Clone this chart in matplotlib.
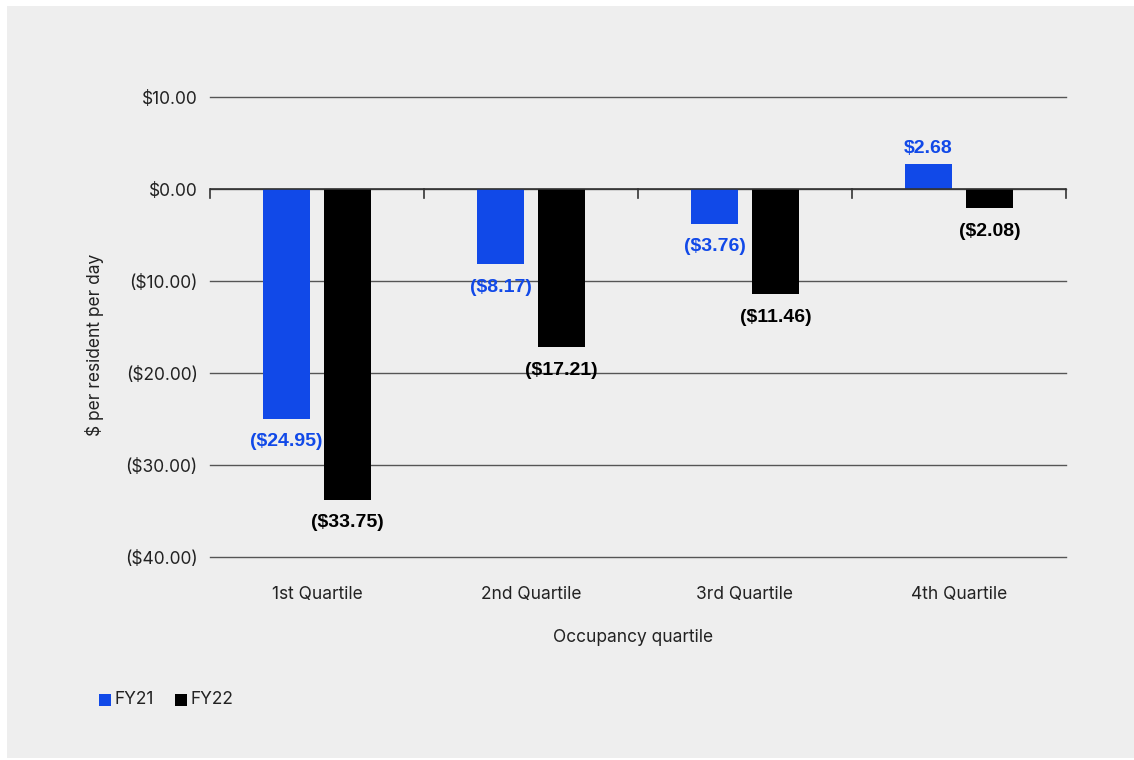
import matplotlib.pyplot as plt
from matplotlib.patches import Rectangle
import numpy as np

quartiles = ["1st Quartile", "2nd Quartile", "3rd Quartile", "4th Quartile"]
fy21 = [-24.95, -8.17, -3.76, 2.68]
fy22 = [-33.75, -17.21, -11.46, -2.08]
yticks = [10, 0, -10, -20, -30, -40]

BLUE = "#1149e8"
BLACK = "#000000"
BG = "#eeeeee"

plt.rcParams["font.family"] = ["Inter", "DejaVu Sans"]


def money(v):
    if v < 0:
        return "(${:.2f})".format(-v)
    return "${:.2f}".format(v)


fig = plt.figure(figsize=(11.34, 7.6), dpi=100)
fig.patch.set_facecolor("white")
fig.patches.append(Rectangle((7 / 1134, 2 / 760), 1127 / 1134, 752 / 760,
                             transform=fig.transFigure, facecolor=BG,
                             edgecolor="none", zorder=-10))

ax = fig.add_axes([210 / 1134, 1 - 557 / 760, 856 / 1134, 460 / 760])
ax.set_facecolor(BG)
ax.patch.set_alpha(0)

x = np.arange(len(quartiles))
w = 0.22
off = 0.1425
b1 = ax.bar(x - off, fy21, w, color=BLUE, zorder=3)
b2 = ax.bar(x + off, fy22, w, color=BLACK, zorder=3)

ax.set_xlim(-0.5, 3.5)
ax.set_ylim(-40, 10)
ax.set_yticks(yticks)
ax.set_yticklabels([money(v) for v in yticks], fontsize=12.5, color="#222222")
ax.tick_params(axis="y", length=0, pad=9)
for v in yticks:
    ax.axhline(v, color="#555555", linewidth=1, zorder=0, clip_on=False)
for s in ax.spines.values():
    s.set_visible(False)

# category labels sit below the plot, boundary ticks hang from the zero line
ax.set_xticks([])
for i, q in enumerate(quartiles):
    ax.text(i, -44.1, q, ha="center", va="center", fontsize=12.5, color="#222222")
ax.axhline(0, color="#333333", linewidth=1.2, zorder=4)
for b in np.arange(-0.5, 4.0, 1.0):
    ax.plot([b, b], [0, -1.0], color="#333333", linewidth=1.2, zorder=4,
            clip_on=False)

for bars, vals, col in [(b1, fy21, BLUE), (b2, fy22, BLACK)]:
    for bar, v in zip(bars, vals):
        cx = bar.get_x() + bar.get_width() / 2
        dy = -16.5 if v < 0 else 11.5
        ax.annotate(money(v), (cx, v), xytext=(0, dy), textcoords="offset points",
                    ha="center", va="center", fontsize=14, fontweight="bold",
                    color=col, family=["Liberation Sans", "DejaVu Sans"], zorder=5)

fig.text(95 / 1134, 1 - 345 / 760, "$ per resident per day", rotation=90,
         ha="center", va="center", fontsize=12.5, color="#222222")
fig.text(633 / 1134, 1 - 638 / 760, "Occupancy quartile", ha="center",
         va="center", fontsize=12.5, color="#222222")

# legend
for lx, lab, col in [(99, "FY21", BLUE), (175, "FY22", BLACK)]:
    fig.patches.append(Rectangle((lx / 1134, 1 - 706 / 760), 12 / 1134, 12 / 760,
                                 transform=fig.transFigure, facecolor=col,
                                 edgecolor="none"))
    fig.text((lx + 16) / 1134, 1 - 700 / 760, lab, ha="left", va="center",
             fontsize=12.5, color="#222222")

plt.savefig("out.png", dpi=100, facecolor=fig.get_facecolor())
